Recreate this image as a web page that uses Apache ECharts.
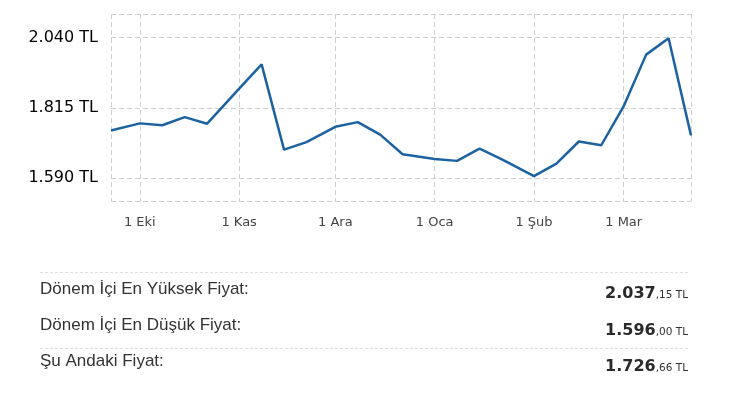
<!DOCTYPE html>
<html>
<head>
<meta charset="utf-8">
<script src="https://cdn.jsdelivr.net/npm/echarts@6/dist/echarts.min.js"></script>
<style>html,body{margin:0;padding:0;background:#fff}#c{width:730px;height:398px}</style>
</head>
<body>
<div id="c"></div>
<script>
// Data (weekly prices, TL)
const dates = ['2024-09-22','2024-10-01','2024-10-08','2024-10-15','2024-10-22','2024-11-01','2024-11-08','2024-11-15','2024-11-22','2024-12-01','2024-12-08','2024-12-15','2024-12-22','2025-01-01','2025-01-08','2025-01-15','2025-01-22','2025-02-01','2025-02-08','2025-02-15','2025-02-22','2025-03-01','2025-03-08','2025-03-15','2025-03-22'];
const prices = [1742,1765,1759,1785,1764,1876,1954,1681,1705,1754,1769,1729,1666,1651,1645,1684,1650,1596,1636,1707,1695,1820,1985,2037.15,1726.66];
const yTicks = [1590,1815,2040];
const monthTicks = ['2024-10-01','2024-11-01','2024-12-01','2025-01-01','2025-02-01','2025-03-01'];
const monthNames = ['Oca','Şub','Mar','Nis','May','Haz','Tem','Ağu','Eyl','Eki','Kas','Ara'];
const statLabels = ['Dönem İçi En Yüksek Fiyat:','Dönem İçi En Düşük Fiyat:','Şu Andaki Fiyat:'];
const statInts = ['2.037','1.596','1.726'];
const statDecs = [',15',',00',',66'];

const toTs = s => { const [y,m,d] = s.split('-').map(Number); return Date.UTC(y,m-1,d); };
const xMin = toTs(dates[0]), xMax = toTs(dates[dates.length-1]);
const monthTs = monthTicks.map(toTs);
const fmtNum = v => String(Math.round(v)).replace(/\B(?=(\d{3})+(?!\d))/g,'.');

const chart = echarts.init(document.getElementById('c'), null, {renderer:'canvas'});
const dash = {color:'#cfcfcf', type:[5,3], width:1};

const graphics = [];
[272.5, 348.5].forEach(y => graphics.push({
  type:'line', shape:{x1:40,y1:y,x2:690,y2:y},
  style:{stroke:'#dddddd', lineWidth:1, lineDash:[3,2]}
}));
const leftY = [289, 325.5, 361.5];
const rightY = [302, 338.5, 375];
statLabels.forEach((t,i) => {
  graphics.push({type:'text', x:40, y:leftY[i], style:{text:t, fontSize:17, fontFamily:'"Liberation Sans", Arial', fill:'#333', verticalAlign:'middle', align:'left'}});
  graphics.push({type:'text', x:688, y:rightY[i], style:{
    text:'{b|'+statInts[i]+'}{s|'+statDecs[i]+' TL}', align:'right', verticalAlign:'bottom',
    rich:{
      b:{fontSize:16, fontWeight:'bold', fontFamily:'"DejaVu Sans"', fill:'#2a2a2a', verticalAlign:'bottom', lineHeight:20},
      s:{fontSize:10.5, fontFamily:'"DejaVu Sans"', fill:'#333', verticalAlign:'bottom', lineHeight:20, padding:[0,0,1,0]}
    }
  }});
});

chart.setOption({
  animation:false,
  backgroundColor:'#fff',
  grid:{left:111, right:39, top:14, height:187.5, containLabel:false},
  xAxis:{
    type:'value', min:xMin, max:xMax, scale:true,
    axisLine:{show:false},
    axisTick:{show:false, customValues:[xMin].concat(monthTs, [xMax])},
    axisLabel:{customValues:monthTs, color:'#444', fontSize:13, fontFamily:'"DejaVu Sans"', margin:15,
      formatter:v => { const d = new Date(v); return d.getUTCDate()+' '+monthNames[d.getUTCMonth()]; }},
    splitLine:{show:true, lineStyle:dash}
  },
  yAxis:{
    type:'value', min:1515, max:2115,
    axisLine:{show:false},
    axisTick:{show:false, customValues:[1515].concat(yTicks,[2115])},
    axisLabel:{customValues:yTicks, color:'#000', fontSize:16, fontFamily:'"DejaVu Sans"', margin:13,
      formatter:v => fmtNum(v)+' TL'},
    splitLine:{show:true, lineStyle:dash}
  },
  series:[{
    type:'line', data:dates.map((d,i)=>[toTs(d), prices[i]]),
    showSymbol:false, symbol:'none',
    lineStyle:{color:'#1c62a1', width:2.5},
    itemStyle:{color:'#1c62a1'}
  }],
  graphic:graphics
});
</script>
</body>
</html>
